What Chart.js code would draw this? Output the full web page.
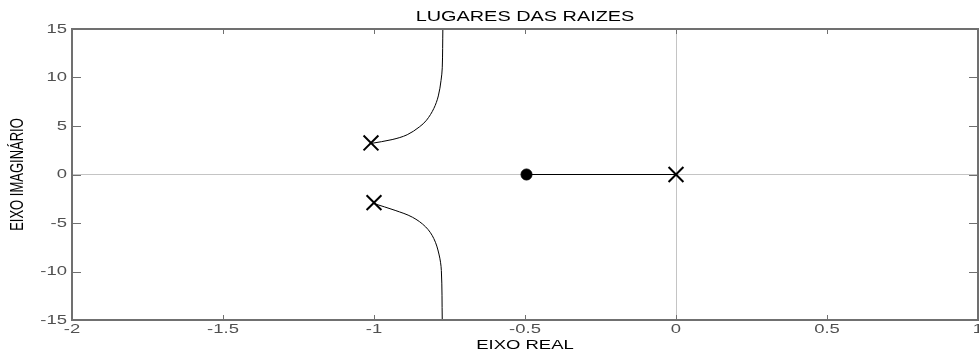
<!DOCTYPE html>
<html>
<head>
<meta charset="utf-8">
<script src="https://cdn.jsdelivr.net/npm/chart.js@4/dist/chart.umd.min.js"></script>
<style>
  html, body { margin: 0; padding: 0; background: #fff; }
  #wrap { width: 979px; height: 356px; }
</style>
</head>
<body>
<div id="wrap"><canvas id="c" width="979" height="356"></canvas></div>
<script>
// Root locus: poles near 0 and -1 ± j3, zero near -0.5
const upperRe = [-1.01, -0.94, -0.89, -0.85, -0.826, -0.802, -0.787, -0.778, -0.774, -0.772];
const upperIm = [3.2, 3.6, 4.1, 4.9, 5.6, 6.8, 8.1, 9.7, 11, 15];
const lowerRe = [-1.0, -0.93, -0.873, -0.829, -0.802, -0.785, -0.777, -0.774];
const lowerIm = [-3.0, -3.7, -4.4, -5.4, -6.6, -8.2, -9.9, -15];
const realRe = [-0.495, 0];
const realIm = [0, 0];
const polesRe = [-1.01, -1.0, 0];
const polesIm = [3.25, -2.9, 0];
const zerosRe = [-0.495];
const zerosIm = [0];

const xTickValues = [-2, -1.5, -1, -0.5, 0, 0.5, 1];
const xTickLabels = ['-2', '-1.5', '-1', '-0.5', '0', '0.5', '1'];
const yTickValues = [-15, -10, -5, 0, 5, 10, 15];
const yTickLabels = ['-15', '-10', '-5', '0', '5', '10', '15'];

const titleText = 'LUGARES DAS RAIZES';
const xTitle = 'EIXO REAL';
const yTitle = 'EIXO IMAGINÁRIO';

const pts = (re, im) => re.map((v, i) => ({ x: v, y: im[i] }));

const FONT = '"Liberation Sans", Arial, Helvetica, sans-serif';
const AXIS = '#707070';
const LABEL = '#505050';
const WIDEN = 1.42; // lettering is drawn wider than tall

function wideText(ctx, text, x, y, opts) {
  ctx.save();
  ctx.translate(x, y);
  ctx.scale(WIDEN, 1);
  if (opts.rotate) ctx.rotate(opts.rotate);
  ctx.font = opts.font;
  ctx.fillStyle = opts.color;
  ctx.textAlign = opts.align;
  ctx.textBaseline = 'middle';
  ctx.fillText(text, 0, 0);
  ctx.restore();
}

// Box frame, inward tick marks, tick labels and titles
const framePlugin = {
  id: 'frame',
  afterDraw(chart) {
    const { ctx, chartArea: a, scales } = chart;
    ctx.save();
    ctx.strokeStyle = AXIS;
    ctx.lineWidth = 1;
    ctx.beginPath();
    xTickValues.forEach(v => {
      const px = Math.round(scales.x.getPixelForValue(v)) + 0.5;
      ctx.moveTo(px, a.bottom); ctx.lineTo(px, a.bottom - 5);
      ctx.moveTo(px, a.top); ctx.lineTo(px, a.top + 5);
    });
    yTickValues.forEach(v => {
      const py = Math.round(scales.y.getPixelForValue(v)) + 0.5;
      ctx.moveTo(a.left, py); ctx.lineTo(a.left + 9, py);
      ctx.moveTo(a.right, py); ctx.lineTo(a.right - 9, py);
    });
    ctx.stroke();
    ctx.lineWidth = 2;
    ctx.strokeRect(a.left, a.top, a.right - a.left, a.bottom - a.top);
    ctx.restore();

    const tickFont = '13px ' + FONT;
    xTickValues.forEach((v, i) => {
      wideText(ctx, xTickLabels[i], scales.x.getPixelForValue(v), a.bottom + 9.5,
        { font: tickFont, color: LABEL, align: 'center' });
    });
    yTickValues.forEach((v, i) => {
      wideText(ctx, yTickLabels[i], a.left - 5, scales.y.getPixelForValue(v),
        { font: tickFont, color: LABEL, align: 'right' });
    });
    const cx = (a.left + a.right) / 2;
    wideText(ctx, titleText, cx, 17, { font: '14px ' + FONT, color: '#000', align: 'center' });
    wideText(ctx, xTitle, cx, 345, { font: '13px ' + FONT, color: '#000', align: 'center' });
    wideText(ctx, yTitle, 18, (a.top + a.bottom) / 2,
      { font: '13px ' + FONT, color: '#000', align: 'center', rotate: -Math.PI / 2 });
  }
};

const lineStyle = {
  showLine: true,
  borderColor: '#000',
  borderWidth: 1,
  pointRadius: 0,
  pointHoverRadius: 0,
  fill: false
};

const zeroGrid = c => (c.tick && c.tick.value === 0 ? '#c4c4c4' : 'rgba(0,0,0,0)');

new Chart(document.getElementById('c'), {
  type: 'scatter',
  data: {
    datasets: [
      Object.assign({ label: 'ramo superior', data: pts(upperRe, upperIm), tension: 0.35 }, lineStyle),
      Object.assign({ label: 'ramo inferior', data: pts(lowerRe, lowerIm), tension: 0.35 }, lineStyle),
      Object.assign({ label: 'eixo real', data: pts(realRe, realIm), tension: 0 }, lineStyle),
      {
        label: 'polos',
        data: pts(polesRe, polesIm),
        pointStyle: 'crossRot',
        pointRadius: 10.5,
        borderColor: '#000',
        borderWidth: 2,
        showLine: false
      },
      {
        label: 'zeros',
        data: pts(zerosRe, zerosIm),
        pointStyle: 'circle',
        pointRadius: 5.5,
        backgroundColor: '#000',
        borderColor: '#000',
        borderWidth: 1,
        showLine: false
      }
    ]
  },
  options: {
    responsive: false,
    animation: false,
    layout: { autoPadding: false, padding: { top: 29, left: 0, right: 1, bottom: 0 } },
    plugins: {
      legend: { display: false },
      tooltip: { enabled: false },
      title: { display: false }
    },
    scales: {
      x: {
        type: 'linear',
        min: -2, max: 1,
        afterBuildTicks: s => { s.ticks = xTickValues.map(v => ({ value: v })); },
        afterFit: s => { s.height = 36; s.paddingLeft = 0; s.paddingRight = 0; },
        ticks: { display: false },
        grid: { drawTicks: false, color: zeroGrid, lineWidth: 1 },
        border: { display: false }
      },
      y: {
        type: 'linear',
        min: -15, max: 15,
        afterBuildTicks: s => { s.ticks = yTickValues.map(v => ({ value: v })); },
        afterFit: s => { s.width = 72; s.paddingTop = 0; s.paddingBottom = 0; },
        ticks: { display: false },
        grid: { drawTicks: false, color: zeroGrid, lineWidth: 1 },
        border: { display: false }
      }
    }
  },
  plugins: [framePlugin]
});
</script>
</body>
</html>
